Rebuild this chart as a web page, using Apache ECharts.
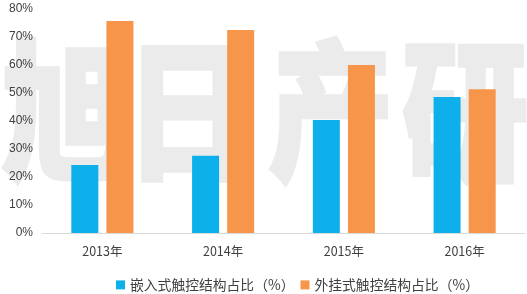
<!DOCTYPE html>
<html><head><meta charset="utf-8">
<script src="https://cdn.jsdelivr.net/npm/echarts@6/dist/echarts.min.js"></script>
<style>html,body{margin:0;padding:0;background:#fff}#c{width:527px;height:294px}</style>
</head><body><div id="c"></div>
<script>
const categories = ['2013年', '2014年', '2015年', '2016年'];
const embedded = [24.3, 27.6, 40.4, 48.6];
const external = [75.7, 72.5, 60.0, 51.3];
const seriesNames = ['嵌入式触控结构占比（%）', '外挂式触控结构占比（%）'];
const yTicks = [0, 10, 20, 30, 40, 50, 60, 70, 80];
const watermark = ['旭', '日', '产', '研'];

const chart = echarts.init(document.getElementById('c'));
const font = '"Noto Sans CJK SC", "Microsoft YaHei", sans-serif';
const wmX = [65, 188, 331, 465];
chart.setOption({
  animation: false,
  textStyle: { fontFamily: font },
  grid: { left: 42, right: 2, top: 9, bottom: 61 },
  xAxis: {
    type: 'category', data: categories,
    axisLine: { lineStyle: { color: '#d9d9d9' } },
    axisTick: { show: false },
    axisLabel: { color: '#404040', fontSize: 12.5, margin: 12, fontFamily: font }
  },
  yAxis: {
    type: 'value', min: yTicks[0], max: yTicks[yTicks.length - 1], interval: 10,
    splitLine: { show: false },
    axisLine: { show: false }, axisTick: { show: false },
    axisLabel: { color: '#404040', fontSize: 12, margin: 9, formatter: '{value}%', fontFamily: 'Liberation Sans, Arial, sans-serif' }
  },
  legend: {
    top: 273, left: 111, itemWidth: 9, itemHeight: 9, itemGap: 6,
    icon: 'rect',
    textStyle: { color: '#404040', fontSize: 13.8, fontFamily: font },
    data: seriesNames
  },
  series: [
    { name: seriesNames[0], type: 'bar', data: embedded, barWidth: 27, barGap: '30%', z: 5, itemStyle: { color: '#0EB0EC' } },
    { name: seriesNames[1], type: 'bar', data: external, barWidth: 27, barGap: '30%', z: 5, itemStyle: { color: '#F7964A' } }
  ],
  graphic: watermark.map((ch, i) => ({
    type: 'text', silent: true, z: 0, zlevel: 0,
    x: wmX[i], y: 111, scaleY: 1.2,
    style: {
      text: ch, fill: '#ebebeb', stroke: '#ebebeb', lineWidth: 3,
      fontSize: 126, fontWeight: 900,
      fontFamily: font, align: 'center', verticalAlign: 'middle'
    }
  }))
});
</script></body></html>
